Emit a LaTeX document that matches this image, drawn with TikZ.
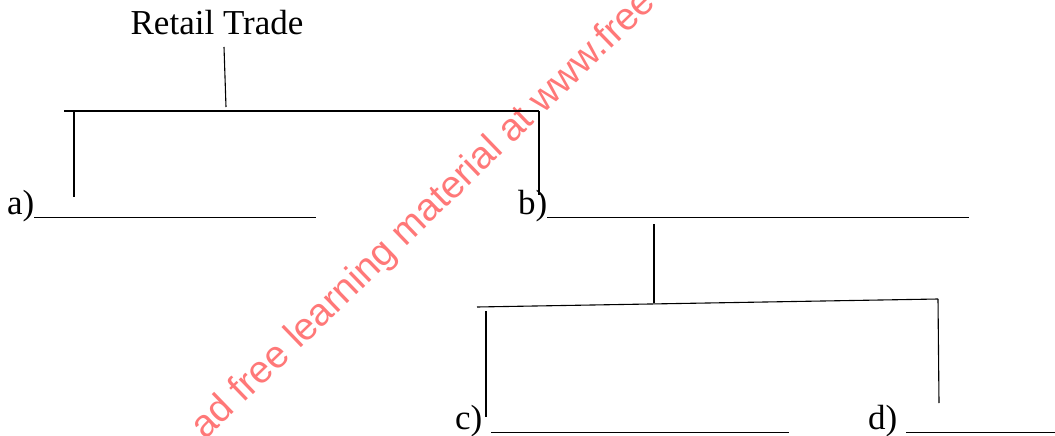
\documentclass[tikz,border=0pt]{standalone}
\usepackage{fontspec}
\setmainfont{Liberation Serif}
\newfontfamily\wmfont{Liberation Sans}
\definecolor{wmred}{RGB}{255,120,120}
\begin{document}
\begin{tikzpicture}[x=1pt,y=-1pt,
  lbl/.style={font=\fontsize{35}{40}\selectfont, inner sep=0pt, anchor=base west},
  wm/.style={font=\wmfont\fontsize{38.6}{44}\selectfont, text=wmred, inner sep=0pt, anchor=base west, rotate=44},
  branch/.style={draw=black, line width=1.1pt}]
\useasboundingbox (0,0) rectangle (1055,436);
\begin{scope}
  \clip (0,0) rectangle (1055,436);
  \node[wm] (wm) at (205,441) {ad free learning material at www.free};
\end{scope}
% labels
\node[lbl, anchor=base] (rt) at (217,35) {Retail Trade};
\node[lbl] (a) at (7,214) {a)\rule[-4pt]{282pt}{1pt}};
\node[lbl] (b) at (518,214) {b)\rule[-4pt]{422pt}{1pt}};
\node[lbl] (c) at (455,429) {c) \rule[-4pt]{298pt}{1pt}};
\node[lbl] (d) at (868,429) {d) \rule[-4pt]{151pt}{1pt}};
% branch points
\coordinate (t1) at (224,47);
\coordinate (t2) at (226,107);
\coordinate (barL) at (64,111);
\coordinate (barR) at (539,111);
\coordinate (aTop) at (74,112);
\coordinate (aEnd) at (74,197);
\coordinate (bEnd) at (539,195);
\coordinate (bs1) at (654,224);
\coordinate (bs2) at (654,303);
\coordinate (bar2L) at (477,307);
\coordinate (bar2R) at (938,299);
\coordinate (cTop) at (486,311);
\coordinate (cEnd) at (486,417);
\coordinate (dEnd) at (939,403);
% connectors
\draw[branch] (t1) -- (t2);
\draw[branch] (barL) -- (barR);
\draw[branch] (aTop) -- (aEnd);
\draw[branch] (barR) -- (bEnd);
\draw[branch] (bs1) -- (bs2);
\draw[branch] (bar2L) -- (bar2R);
\draw[branch] (cTop) -- (cEnd);
\draw[branch] (bar2R) -- (dEnd);
\end{tikzpicture}
\end{document}
